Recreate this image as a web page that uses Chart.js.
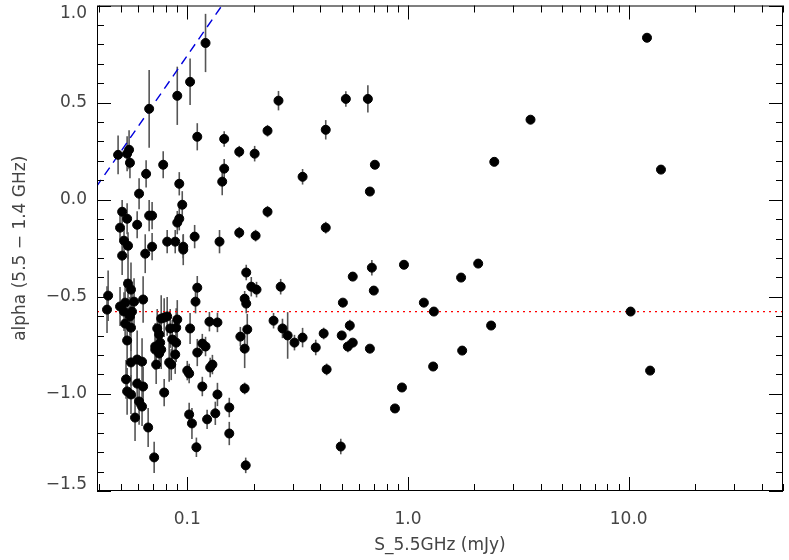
<!DOCTYPE html>
<html><head><meta charset="utf-8">
<script src="https://cdn.jsdelivr.net/npm/chart.js@4/dist/chart.umd.min.js"></script>
<style>html,body{margin:0;padding:0;background:#fff}#w{width:789px;height:560px}</style>
</head><body><div id="w"><canvas id="c"></canvas></div>
<script>
const fluxS = [0.121,0.103,0.0901,0.0672,0.111,0.147,0.231,0.172,0.202,0.0486,0.0534,0.0545,0.055,0.0778,0.0651,0.147,0.144,0.092,0.0605,0.0949,0.0507,0.0672,0.0693,0.231,0.0534,0.0496,0.0593,0.092,0.0901,0.172,0.204,0.108,0.140,0.0811,0.0882,0.0517,0.0539,0.0693,0.0959,
0.0507,0.0645,0.0959,0.0438,0.0433,0.0539,0.0556,0.0496,0.0523,0.0574,0.0631,0.0517,0.0562,0.055,0.0523,0.0556,0.0534,0.0556,0.0593,0.0624,0.0528,0.0534,0.0556,0.0593,0.0631,0.0605,0.0624,0.058,0.0665,0.0708,0.0716,0.0716,0.0731,0.0746,0.0762,0.0786,0.0811,0.0754,0.0746,0.0723,0.0762,0.0837,0.0901,0.0891,0.0855,0.0891,0.0882,0.0828,0.0846,0.0786,0.100,0.102,0.103,0.111,0.109,0.111,0.117,0.121,0.126,0.127,0.130,0.117,0.137,0.137,0.102,0.105,0.110,0.123,0.134,0.155,0.155,0.174,0.182,0.185,0.185,0.187,0.182,0.195,0.206,0.182,0.184,
0.259,0.523,0.658,0.424,3.59,0.333,0.708,2.46,0.672,0.424,0.959,0.686,2.08,0.562,1.74,0.265,0.700,0.507,1.18,1.31,0.246,0.270,0.285,0.306,0.333,0.382,0.415,0.501,0.545,0.534,0.562,0.672,2.38,1.76,0.428,1.30,0.939,0.873,0.496,
12.1,14.0,10.2,12.5];
const alpha = [0.807,0.607,0.535,0.468,0.324,0.313,0.355,0.247,0.237,0.231,0.237,0.257,0.190,0.180,0.133,0.160,0.093,0.082,0.031,-0.026,-0.062,-0.082,-0.082,-0.062,-0.098,-0.144,-0.129,-0.098,-0.118,-0.170,-0.185,-0.190,-0.216,-0.216,-0.216,-0.211,-0.237,-0.242,-0.242,
-0.288,-0.278,-0.257,-0.494,-0.566,-0.432,-0.463,-0.550,-0.530,-0.525,-0.514,-0.576,-0.576,-0.601,-0.638,-0.659,-0.725,-0.838,-0.823,-0.834,-0.925,-0.987,-1.003,-0.947,-0.962,-1.039,-1.065,-1.122,-1.173,-1.327,-0.756,-0.772,-0.663,-0.694,-0.612,-0.607,-0.601,-0.736,-0.792,-0.849,-0.772,-0.663,-0.617,-0.659,-0.720,-0.736,-0.797,-0.838,-0.849,-0.993,-0.880,-0.895,-0.663,-0.787,-0.525,-0.453,-0.741,-0.756,-0.628,-0.864,-0.849,-0.962,-0.632,-1.003,-1.106,-1.152,-1.275,-1.131,-1.100,-1.070,-1.204,-0.705,-0.510,-0.375,-0.535,-0.668,-0.767,-0.448,-0.463,-0.972,-1.368,
0.510,0.519,0.519,0.360,0.412,0.118,0.180,0.195,0.042,-0.144,-0.335,-0.350,-0.329,-0.396,-0.401,-0.448,-0.468,-0.530,-0.530,-0.576,-0.623,-0.663,-0.699,-0.736,-0.710,-0.761,-0.689,-0.699,-0.648,-0.756,-0.736,-0.767,-0.648,-0.777,-0.874,-0.859,-0.967,-1.075,-1.271,
0.834,0.155,-0.576,-0.880];
const alphaErr = [0.15,0.12,0.15,0.20,0.07,0.04,0.03,0.03,0.04,0.10,0.09,0.10,0.08,0.07,0.07,0.05,0.07,0.06,0.08,0.07,0.06,0.08,0.07,0.03,0.08,0.06,0.07,0.06,0.06,0.03,0.03,0.06,0.06,0.06,0.06,0.06,0.07,0.07,0.06,
0.10,0.10,0.08,0.13,0.12,0.15,0.14,0.10,0.12,0.12,0.12,0.10,0.10,0.10,0.10,0.12,0.10,0.12,0.15,0.12,0.10,0.12,0.10,0.12,0.10,0.12,0.10,0.12,0.10,0.08,0.12,0.10,0.10,0.10,0.12,0.10,0.10,0.10,0.08,0.10,0.10,0.10,0.10,0.10,0.10,0.10,0.10,0.10,0.08,0.07,0.05,0.05,0.08,0.07,0.06,0.06,0.05,0.05,0.05,0.05,0.05,0.05,0.05,0.06,0.06,0.08,0.05,0.05,0.06,0.05,0.06,0.05,0.04,0.04,0.05,0.08,0.10,0.05,0.04,0.03,0.04,
0.05,0.04,0.07,0.05,0,0.04,0,0,0,0.03,0,0.04,0,0,0,0.04,0,0,0,0,0.04,0.05,0.12,0.04,0.05,0.04,0.03,0,0.03,0.03,0,0,0,0,0.03,0,0,0,0.04,
0,0,0,0];
const blueLineS = [0.0386, 0.17];
const blueLineAlpha = [0.064, 1.12];
const meanAlpha = -0.576;
const meanLineS = [0.039, 50];
const xMajor = [0.1, 1, 10];
const xMinor = [0.04,0.05,0.06,0.07,0.08,0.09,0.2,0.3,0.4,0.5,0.6,0.7,0.8,0.9,2,3,4,5,6,7,8,9,20,30,40,50];
const yMajor = [-1.5,-1.0,-0.5,0.0,0.5,1.0];
const yMinor = [-1.4,-1.3,-1.2,-1.1,-0.9,-0.8,-0.7,-0.6,-0.4,-0.3,-0.2,-0.1,0.1,0.2,0.3,0.4,0.6,0.7,0.8,0.9];

const pts = fluxS.map((s,i)=>({x:s,y:alpha[i]}));
const F = '"DejaVu Sans", sans-serif';
const inner = {
  id:'inner',
  beforeDatasetsDraw(ch){
    const c=ch.ctx, x=ch.scales.x, y=ch.scales.y;
    c.save(); c.strokeStyle='#555'; c.lineWidth=1.6;
    ch.data.datasets[0].data.forEach((p,i)=>{
      const e=alphaErr[i]; if(!e) return;
      const px=x.getPixelForValue(p.x);
      c.beginPath(); c.moveTo(px,y.getPixelForValue(p.y-e)); c.lineTo(px,y.getPixelForValue(p.y+e)); c.stroke();
    });
    c.restore();
  },
  afterDraw(ch){
    const c=ch.ctx, a=ch.chartArea, x=ch.scales.x, y=ch.scales.y;
    c.save(); c.strokeStyle='#000'; c.lineWidth=1;
    c.strokeRect(a.left+0.5,a.top+0.5,a.right-a.left-1,a.bottom-a.top-1);
    c.beginPath();
    const tx=(v,L)=>{const p=Math.round(x.getPixelForValue(v))+0.5; c.moveTo(p,a.bottom);c.lineTo(p,a.bottom-L);c.moveTo(p,a.top);c.lineTo(p,a.top+L);};
    const ty=(v,L)=>{const p=Math.round(y.getPixelForValue(v))+0.5; c.moveTo(a.left,p);c.lineTo(a.left+L,p);c.moveTo(a.right,p);c.lineTo(a.right-L,p);};
    xMajor.forEach(v=>tx(v,14)); xMinor.forEach(v=>tx(v,7));
    yMajor.forEach(v=>ty(v,14)); yMinor.forEach(v=>ty(v,7));
    c.stroke();
    c.fillStyle='#444'; c.font='17px '+F; c.textAlign='right'; c.textBaseline='middle';
    yMajor.forEach(v=>{
      const p=Math.min(Math.max(y.getPixelForValue(v),14),485);
      c.fillText((v<0?'\u2212':'')+Math.abs(v).toFixed(1),a.left-10,p);
    });
    c.restore();
  }
};
new Chart(document.getElementById('c'),{
  type:'scatter',
  data:{datasets:[
    {data:pts,backgroundColor:'#000',borderColor:'#000',pointRadius:4.5,pointHoverRadius:4.5,order:1},
    {type:'line',data:blueLineS.map((s,i)=>({x:s,y:blueLineAlpha[i]})),borderColor:'#0000dd',borderWidth:1.4,borderDash:[9,6],pointRadius:0,fill:false,order:2},
    {type:'line',data:meanLineS.map(s=>({x:s,y:meanAlpha})),borderColor:'#ff0000',borderWidth:1.3,borderDash:[2,4],pointRadius:0,fill:false,order:3}
  ]},
  options:{
    responsive:true,maintainAspectRatio:false,animation:false,
    layout:{padding:{top:5,right:6,left:0,bottom:0}},
    plugins:{legend:{display:false},tooltip:{enabled:false}},
    scales:{
      x:{type:'logarithmic',min:0.039,max:50,
        afterBuildTicks:s=>{s.ticks=xMajor.map(v=>({value:v}));},
        afterFit:s=>{s.height=69;},
        grid:{display:false},border:{display:false},
        ticks:{color:'#444',font:{family:F,size:17},padding:10,maxRotation:0,
          callback:v=>v<1?'0.1':v.toFixed(1)},
        title:{display:true,text:'S_5.5GHz (mJy)',color:'#444',font:{family:F,size:17},padding:{top:0}}},
      y:{type:'linear',min:-1.5,max:1.0,
        afterBuildTicks:s=>{s.ticks=yMajor.map(v=>({value:v}));},
        afterFit:s=>{s.width=97;},
        grid:{display:false},border:{display:false},
        ticks:{display:false},
        title:{display:true,text:'alpha (5.5 \u2212 1.4 GHz)',color:'#444',font:{family:F,size:17},padding:{top:10,bottom:0}}}
    }
  },
  plugins:[inner]
});
</script></body></html>
